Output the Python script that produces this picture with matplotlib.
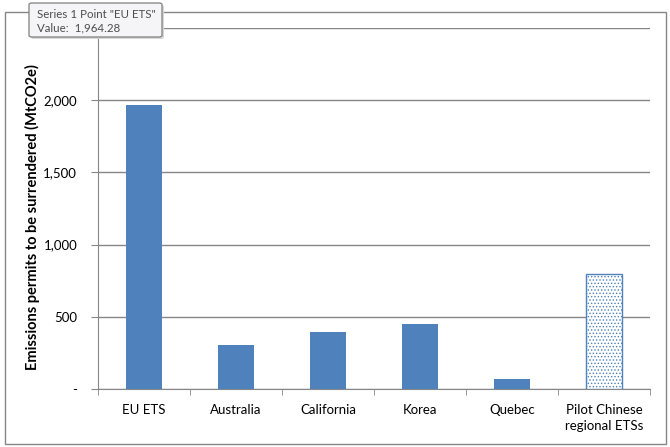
import matplotlib.pyplot as plt
from matplotlib.patches import Rectangle, FancyBboxPatch

plt.rcParams['font.family'] = ['Lato', 'DejaVu Sans']
plt.rcParams['hatch.linewidth'] = 0.6

# values (MtCO2e)
schemes = ['EU ETS', 'Australia', 'California', 'Korea', 'Quebec', 'Pilot Chinese\nregional ETSs']
permits = [1964.28, 305, 395, 450, 69, 796]
yticks = [0, 500, 1000, 1500, 2000, 2500]
ylabels = ['-', '500', '1,000', '1,500', '2,000', '']  # top label is hidden by the tooltip

blue = '#4F81BD'
grey = '#868686'

fig = plt.figure(figsize=(6.7, 4.47), dpi=100)
W, H = 670, 447

# outer chart border
fig.patches.append(Rectangle((4.5 / W, 3.5 / H), 661 / W, 431.5 / H, transform=fig.transFigure,
                             fill=False, edgecolor=grey, linewidth=1.0, zorder=1))

ax = fig.add_axes([98 / W, 1 - 389 / H, 552 / W, 361 / H])
x = list(range(len(schemes)))
ax.bar(x[:-1], permits[:-1], width=0.4, color=blue, zorder=3)
ax.bar(x[-1], permits[-1], width=0.4, facecolor='white', edgecolor=blue, hatch='.....',
       linewidth=1.0, zorder=3)

ax.set_xlim(-0.5, 5.5)
ax.set_ylim(0, 2500)
ax.set_yticks(yticks)
ax.set_yticklabels(ylabels, fontsize=9.5)
ax.set_xticks(x)
ax.set_xticklabels(schemes, fontsize=9.5, linespacing=1.35)
ax.set_xticks([i - 0.5 for i in range(len(schemes) + 1)], minor=True)
ax.tick_params(axis='x', which='major', length=0, pad=11)
ax.tick_params(axis='x', which='minor', length=4, color=grey, direction='out')
ax.tick_params(axis='y', length=5, color=grey, pad=10)
ax.grid(axis='y', color=grey, linewidth=1.0, zorder=0)
for s in ['top', 'right']:
    ax.spines[s].set_visible(False)
for s in ['left', 'bottom']:
    ax.spines[s].set_color(grey)
ax.set_ylabel('Emissions permits to be surrendered (MtCO2e)', fontsize=10.5, fontweight='bold')
ax.yaxis.set_label_coords(-0.105, 0.475)

# tooltip box
fig.patches.append(FancyBboxPatch((31 / W, 1 - 39 / H), 133 / W, 34 / H, transform=fig.transFigure,
                                  boxstyle='round,pad=0,rounding_size=0.004', facecolor='#D8D8D8',
                                  edgecolor='none', zorder=10))
fig.patches.append(FancyBboxPatch((29 / W, 1 - 37 / H), 133 / W, 34 / H, transform=fig.transFigure,
                                  boxstyle='round,pad=0,rounding_size=0.004', facecolor='#F5F5F8',
                                  edgecolor='#7F7F7F', linewidth=0.9, zorder=11))
fig.text(37 / W, 1 - 14 / H, 'Series 1 Point "EU ETS"', fontsize=8.3, color='#4D4D4D',
         va='center', ha='left', zorder=12)
fig.text(37 / W, 1 - 28 / H, 'Value:  1,964.28', fontsize=8.3, color='#4D4D4D',
         va='center', ha='left', zorder=12)

fig.savefig('out.png', dpi=100)
